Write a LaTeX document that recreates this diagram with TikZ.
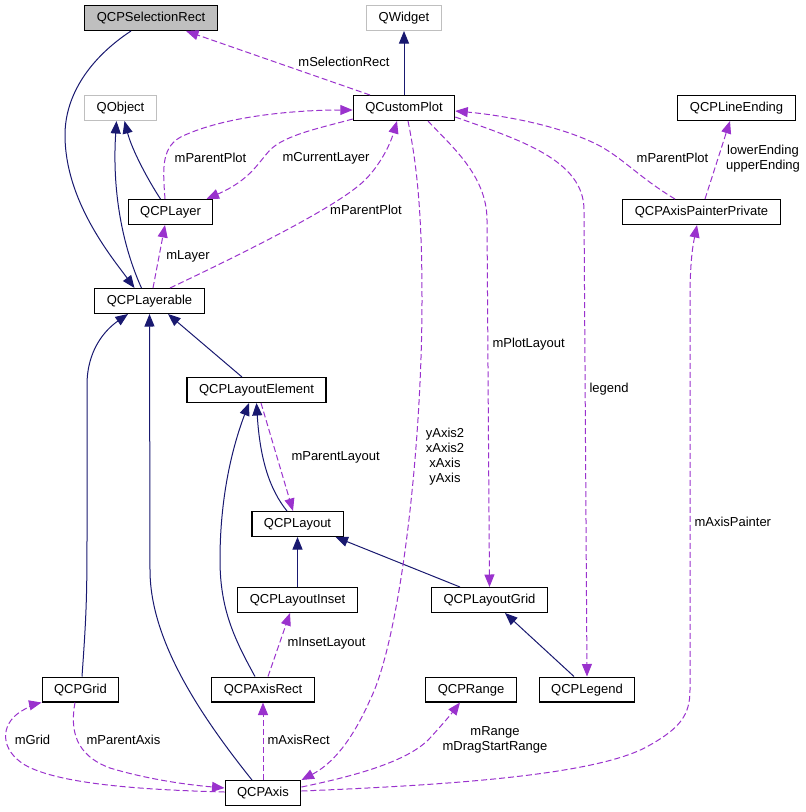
\documentclass[tikz,border=0pt]{standalone}
\usepackage{fontspec}
\setmainfont{Liberation Sans}
\usetikzlibrary{arrows.meta}
\definecolor{inhblue}{HTML}{191970}
\definecolor{usepurple}{HTML}{9A32CD}
\definecolor{extgray}{HTML}{BFBFBF}

\begin{document}
\begin{tikzpicture}[x=1pt, y=-1pt, line width=1pt, font=\fontsize{13}{15}\selectfont,
        cls/.style={draw=black, line width=1.2pt, rectangle, minimum height=24.8pt, inner xsep=12pt, inner ysep=0pt, text height=9.5pt, text depth=2.5pt},
        ext/.style={cls, draw=extgray},
        inh/.style={draw=inhblue, -{Triangle[length=12.5pt, width=10pt]}},
        member/.style={draw=usepurple, dash pattern=on 6pt off 3pt, -{Triangle[length=12.5pt, width=10pt]}},
        lbl/.style={inner sep=0pt, align=center}]
            \useasboundingbox (0,0) rectangle (806,812);
            \node[cls, fill=extgray] (SR) at (151,18)    {QCPSelectionRect};
            \node[ext]  (QW)  at (404,18)    {QWidget};
            \node[ext]  (QO)  at (120.5,108) {QObject};
            \node[cls]  (CP)  at (404,108)   {QCustomPlot};
            \node[cls]  (LEn) at (736.5,108) {QCPLineEnding};
            \node[cls]  (LY)  at (170.5,212) {QCPLayer};
            \node[cls]  (APP) at (701.5,212) {QCPAxisPainterPrivate};
            \node[cls]  (LB)  at (149.5,301) {QCPLayerable};
            \node[cls]  (LE)  at (256.5,390) {QCPLayoutElement};
            \node[cls]  (LO)  at (297.5,524) {QCPLayout};
            \node[cls]  (LI)  at (297.5,600) {QCPLayoutInset};
            \node[cls]  (LG)  at (489.5,600) {QCPLayoutGrid};
            \node[cls]  (GR)  at (80.5,689.5)  {QCPGrid};
            \node[cls]  (AR)  at (263,689.5)   {QCPAxisRect};
            \node[cls]  (RG)  at (471,689.5)   {QCPRange};
            \node[cls]  (LGD) at (587,689.5)   {QCPLegend};
            \node[cls]  (AX)  at (263,793)     {QCPAxis};

            \path   (CP.north) edge[inh] (QW.south)
                    (LI.north) edge[inh] (LO.south)
                    ([xshift=-14.5pt]LE.north) edge[inh] ([xshift=18.5pt]LB.south)
                    ([xshift=-29.5pt]LG.north) edge[inh] ([xshift=38pt]LO.south)
                    ([xshift=-13pt]LGD.north)  edge[inh] ([xshift=15.5pt]LG.south);
            \draw[inh] ([xshift=-20pt]SR.south) .. controls (90,58) and (65,95) .. (65,135) .. controls (65,200) and (110,255) .. ([xshift=-15pt]LB.north);
            \draw[inh] ([xshift=-8pt]LB.north) .. controls (122,245) and (112,190) .. ([xshift=-4pt]QO.south);
            \draw[inh] ([xshift=-10pt]LY.north) .. controls (148,180) and (132,150) .. ([xshift=4pt]QO.south);
            \draw[inh] ([xshift=1.5pt]GR.north) .. controls (86,620) and (87,600) .. (87,540) -- (87,385) .. controls (87,350) and (105,330) .. ([xshift=-21.5pt]LB.south);
            \draw[inh] ([xshift=-11pt]AX.north) .. controls (200,715) and (150,640) .. (150,570) -- (LB.south);
            \draw[inh] ([xshift=-10.5pt]LO.north) .. controls (270,490) and (260,460) .. (LE.south);
            \draw[inh] ([xshift=-8pt]AR.north) .. controls (235,640) and (220,610) .. (220,560) .. controls (220,490) and (235,440) .. ([xshift=-7.5pt]LE.south);

            \path   ([xshift=-34pt]CP.north) edge[member] ([xshift=35pt]SR.south)
                    ([xshift=3.5pt]LB.north)  edge[member] ([xshift=-5.5pt]LY.south)
                    ([xshift=3.5pt]APP.north) edge[member] ([xshift=-6.5pt]LEn.south)
                    (AX.north)                edge[member] (AR.south)
                    ([xshift=5pt]AR.north)    edge[member] ([xshift=-7.5pt]LI.south)
                    ([xshift=4.5pt]LE.south)  edge[member] ([xshift=-4.5pt]LO.north);
            \draw[member] ([xshift=-5.5pt]LY.north) .. controls (163,170) and (160,145) .. (185,135) .. controls (230,115) and (300,110) .. ([yshift=-2pt]CP.west);
            \draw[member] ([yshift=-11pt]CP.west) .. controls (320,128) and (285,135) .. (270,150) .. controls (258,163) and (250,180) .. ([xshift=36pt]LY.north);
            \draw[member] ([xshift=20.5pt]LB.north) .. controls (250,250) and (340,205) .. (365,180) .. controls (380,165) and (390,145) .. ([xshift=-7pt]CP.south);
            \draw[member] ([xshift=4pt]CP.south) .. controls (418,170) and (422,220) .. (422,300) .. controls (422,450) and (400,640) .. (370,700) .. controls (350,745) and (330,765) .. (AX.north east);
            \draw[member] ([xshift=24pt]CP.south) .. controls (450,145) and (487,175) .. (487,220) -- (LG.north);
            \draw[member] ([yshift=-9pt]CP.east) .. controls (520,140) and (584,160) .. (584,210) -- (LGD.north);
            \draw[member] ([xshift=-26.5pt]APP.north) .. controls (640,178) and (625,160) .. (600,146) .. controls (560,125) and (500,115) .. ([yshift=-3pt]CP.east);
            \draw[member] ([yshift=2pt]AX.east) .. controls (450,785) and (600,775) .. (650,745) .. controls (680,728) and (690,715) .. (690,690) -- (690,300) .. controls (690,260) and (693,245) .. ([xshift=-4.5pt]APP.south);
            \draw[member] ([yshift=6pt]AX.east) .. controls (360,775) and (410,760) .. (430,738) .. controls (442,725) and (452,713) .. ([xshift=-11pt]RG.south);
            \draw[member] ([yshift=1pt]AX.west) .. controls (150,790) and (60,785) .. (25,765) .. controls (0,750) and (0,725) .. (20,712) .. controls (28,707) and (35,704) .. (GR.south west);
            \draw[member] ([xshift=-5.5pt]GR.south) .. controls (70,730) and (75,755) .. (110,768) .. controls (150,780) and (190,785) .. ([yshift=5pt]AX.west);

            \node[lbl] (lSR)  at (344,62)    {mSelectionRect};
            \node[lbl] (lPP1) at (210.5,158) {mParentPlot};
            \node[lbl] (lCL)  at (326,158)   {mCurrentLayer};
            \node[lbl] (lPP2) at (366,210)   {mParentPlot};
            \node[lbl] (lLY)  at (188,256)   {mLayer};
            \node[lbl] (lPP3) at (672.5,158) {mParentPlot};
            \node[lbl] (lEnd) at (763,159)   {lowerEnding\\upperEnding};
            \node[lbl] (lAxs) at (445,457)   {yAxis2\\xAxis2\\xAxis\\yAxis};
            \node[lbl, anchor=west] (lPL)  at (492,344) {mPlotLayout};
            \node[lbl, anchor=west] (lLgd) at (589,389) {legend};
            \node[lbl, anchor=west] (lPLo) at (291,457) {mParentLayout};
            \node[lbl, anchor=west] (lAP)  at (694,522) {mAxisPainter};
            \node[lbl, anchor=west] (lIL)  at (287,643) {mInsetLayout};
            \node[lbl, anchor=west] (lAR)  at (267,740) {mAxisRect};
            \node[lbl] (lGR)  at (32.5,740)  {mGrid};
            \node[lbl] (lPA)  at (123.5,740) {mParentAxis};
            \node[lbl] (lRG)  at (495,740)   {mRange\\mDragStartRange};
        \end{tikzpicture}
\end{document}
